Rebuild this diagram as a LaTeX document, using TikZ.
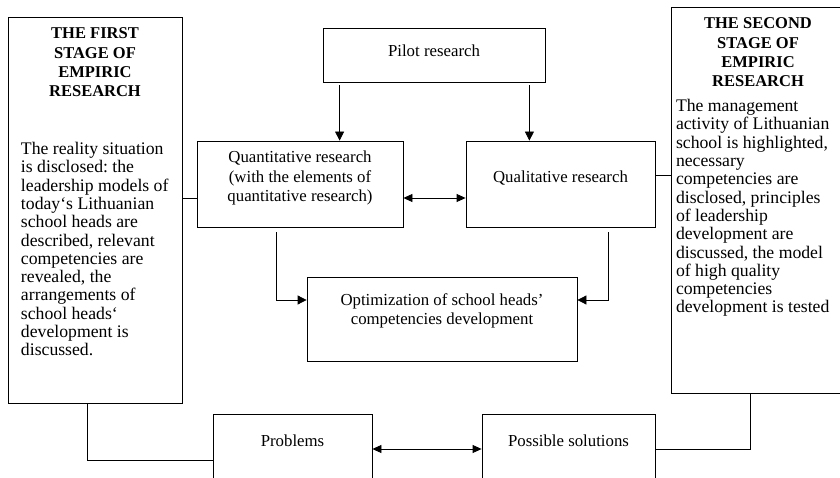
\documentclass[tikz,border=0pt]{standalone}
\usepackage{fontspec}
\setmainfont{Liberation Serif}
\usetikzlibrary{arrows.meta,positioning}
\setlength{\parindent}{0pt}
\frenchspacing

\newcommand{\headfont}{\fontsize{16.5}{19.4}\selectfont\bfseries}
\newcommand{\bodyfont}{\normalfont\fontsize{17.7}{18.3}\selectfont}
% box text: width, height, first baseline, text
\newcommand{\boxtext}[4]{\parbox[c][#2][t]{#1}{\centering\rule{0pt}{#3}#4}}

\begin{document}
\begin{tikzpicture}[
    x=1pt, y=-1pt,
    block/.style={draw, line width=0.8pt, inner sep=0pt, font=\fontsize{16.8}{19.4}\selectfont},
    stage/.style={draw, line width=0.8pt, inner sep=0pt},
    link/.style={line width=0.8pt},
    arrow/.style={line width=0.8pt, -{Triangle[length=9pt,width=9pt]}},
    twoway/.style={line width=0.8pt, {Triangle[length=9pt,width=8pt]}-{Triangle[length=9pt,width=8pt]}},
]
    \useasboundingbox (0,0) rectangle (840,478);
    \clip (0,0) rectangle (840,478);

    % the two stages
    \node[stage] (first) at (95,210) {\parbox[c][386pt][t]{174pt}{\headfont\centering
        \rule{0pt}{21.8pt}THE FIRST\\STAGE OF\\EMPIRIC\\RESEARCH\par
        \vspace{39.3pt}\bodyfont\raggedright\leftskip=13pt
        The reality situation\\is disclosed: the\\leadership models of\\today‘s Lithuanian\\school heads are\\described, relevant\\competencies are\\revealed, the\\arrangements of\\school heads‘\\development is\\discussed.\par}};
    \node[stage] (second) at (758,200) {\parbox[c][386pt][t]{174pt}{\headfont\centering
        \rule{0pt}{21.8pt}THE SECOND\\STAGE OF\\EMPIRIC\\RESEARCH\par
        \vspace{6.4pt}\bodyfont\raggedright\leftskip=5pt
        The management\\activity of Lithuanian\\school is highlighted,\\necessary\\competencies are\\disclosed, principles\\of leadership\\development are\\discussed, the model\\of high quality\\competencies\\development is tested\par}};

    % research blocks
    \node[block] (pilot) at (434,55) {\boxtext{222pt}{54pt}{28.7pt}{Pilot research}};
    \node[block] (quant) at (300,184) {\boxtext{206pt}{86pt}{22pt}{Quantitative research\\(with the elements of\\quantitative research)}};
    \node[block] (qual) at (560.5,184) {\boxtext{189pt}{86pt}{42pt}{Qualitative research}};
    \node[block] (optim) at (442,319) {\boxtext{270pt}{84pt}{28pt}{Optimization of school heads’\\competencies development}};
    \node[block] (problems) at (292.5,454) {\boxtext{159pt}{80pt}{32.7pt}{Problems}};
    \node[block] (solutions) at (568.5,454) {\boxtext{173pt}{80pt}{32.7pt}{Possible solutions}};

    % connectors
    \draw[arrow] ([shift={(17pt,-3pt)}]pilot.south west) -- ([xshift=17pt]pilot.south west |- quant.north);
    \draw[arrow] ([shift={(-16pt,-3pt)}]pilot.south east) -- ([xshift=-16pt]pilot.south east |- qual.north);
    \draw[twoway] ([yshift=-14pt]quant.east) -- ([yshift=-14pt]qual.west);
    \draw[link] ([yshift=-14pt]quant.west) -- ([yshift=-14pt]first.east |- quant.west);
    \draw[link] ([yshift=9pt]qual.east) -- ([yshift=9pt]second.west |- qual.east);
    \draw[arrow] ([shift={(-24pt,-5pt)}]quant.south) |- ([yshift=19pt]optim.west);
    \draw[arrow] ([shift={(47.5pt,-5pt)}]qual.south) |- ([yshift=19pt]optim.east);
    \draw[link] ([xshift=-8pt]first.south) |- ([yshift=-6pt]problems.west);
    \draw[twoway] ([yshift=5pt]problems.east) -- ([yshift=5pt]solutions.west);
    \draw[link] ([yshift=5pt]solutions.east) -| ([xshift=-8pt]second.south);
\end{tikzpicture}
\end{document}
